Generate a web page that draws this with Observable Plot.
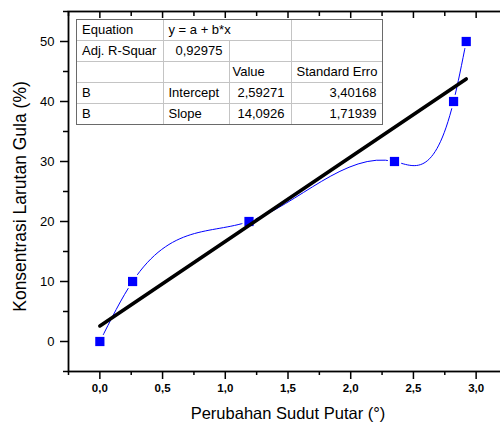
<!DOCTYPE html>
<html><head><meta charset="utf-8">
<script src="https://cdn.jsdelivr.net/npm/d3@7"></script>
<script src="https://cdn.jsdelivr.net/npm/@observablehq/plot@0.6"></script>
<style>
html,body{margin:0;padding:0;background:#fff;overflow:hidden;width:500px;height:427px;}
#wrap{position:relative;width:500px;height:427px;overflow:hidden;}
#wrap svg{max-width:none !important;display:block;}
#box{position:absolute;left:76px;top:19px;border:1px solid #6a6a6a;background:#fff;}
#tbl{border-collapse:collapse;border-style:hidden;table-layout:fixed;font:13px "Liberation Sans",Arial,sans-serif;color:#000;}
#tbl td{border:1px solid #c4c4c4;height:20px;padding:0 5px 0 5px;white-space:nowrap;line-height:20px;overflow:hidden;}
#tbl td.num{text-align:right;padding-right:6px;}
#tbl td.val{padding-left:3px;}
</style>
</head><body><div id="wrap"></div>
<script>
// ---- data ----
const xVals = [0, 0.261, 1.189, 2.349, 2.820, 2.921];
const yVals = [0, 10, 20, 30, 40, 50];
const fitIntercept = 2.59271;
const fitSlope = 14.0926;
const xTicks = [0, 0.5, 1.0, 1.5, 2.0, 2.5, 3.0];
const xTickLabels = ["0,0", "0,5", "1,0", "1,5", "2,0", "2,5", "3,0"];
const xMinor = [-0.25, 0.25, 0.75, 1.25, 1.75, 2.25, 2.75, 3.25];
const yTicks = [0, 10, 20, 30, 40, 50];
const yTickLabels = ["0", "10", "20", "30", "40", "50"];
const yMinor = [-5, 5, 15, 25, 35, 45, 55];
const xLabel = "Perubahan Sudut Putar (°)";
const yLabel = "Konsentrasi Larutan Gula (%)";
// fit table
const tableRow1 = ["Equation", "y = a + b*x", ""];
const tableRow2 = ["Adj. R-Squar", "0,92975", "", ""];
const tableRow3 = ["", "", "Value", "Standard Erro"];
const tableRow4 = ["B", "Intercept", "2,59271", "3,40168"];
const tableRow5 = ["B", "Slope", "14,0926", "1,71939"];

const points = xVals.map((x, i) => ({x, y: yVals[i]}));
const xr = d3.extent(xVals);
const fitPts = xr.map(x => ({x, y: fitIntercept + fitSlope * x}));

// Custom curve: natural cubic spline y(x) (function of x), like Origin's spline connector
function curveSplineX(context) {
  let xs, ys;
  return {
    lineStart() { xs = []; ys = []; },
    point(x, y) { xs.push(+x); ys.push(+y); },
    lineEnd() {
      const n = xs.length;
      if (!n) return;
      context.moveTo(xs[0], ys[0]);
      if (n < 3) { for (let i = 1; i < n; i++) context.lineTo(xs[i], ys[i]); return; }
      const h = [], M = new Array(n).fill(0);
      for (let i = 0; i < n - 1; i++) h.push(xs[i + 1] - xs[i]);
      const a = [], b = [], c = [], d = [];
      for (let i = 1; i < n - 1; i++) {
        a.push(h[i - 1]); b.push(2 * (h[i - 1] + h[i])); c.push(h[i]);
        d.push(6 * ((ys[i + 1] - ys[i]) / h[i] - (ys[i] - ys[i - 1]) / h[i - 1]));
      }
      const m = b.length;
      for (let i = 1; i < m; i++) {
        const w = a[i] / b[i - 1];
        b[i] -= w * c[i - 1]; d[i] -= w * d[i - 1];
      }
      const sol = new Array(m);
      sol[m - 1] = d[m - 1] / b[m - 1];
      for (let i = m - 2; i >= 0; i--) sol[i] = (d[i] - c[i] * sol[i + 1]) / b[i];
      for (let i = 0; i < m; i++) M[i + 1] = sol[i];
      for (let i = 0; i < n - 1; i++) {
        const hi = h[i];
        const s = (ys[i + 1] - ys[i]) / hi;
        const m0 = s - hi * (2 * M[i] + M[i + 1]) / 6;
        const m1 = s + hi * (M[i] + 2 * M[i + 1]) / 6;
        context.bezierCurveTo(xs[i] + hi / 3, ys[i] + m0 * hi / 3,
                              xs[i + 1] - hi / 3, ys[i + 1] - m1 * hi / 3,
                              xs[i + 1], ys[i + 1]);
      }
    },
    areaStart() {}, areaEnd() {}
  };
}

const chart = Plot.plot({
  width: 510, height: 427,
  marginLeft: 68, marginRight: 3, marginTop: 11, marginBottom: 56,
  style: {fontFamily: "'Liberation Sans', Arial, sans-serif", color: "black", background: "white", maxWidth: "none"},
  x: {domain: [-0.25, 3.25], axis: null},
  y: {domain: [-5, 55], axis: null},
  marks: [
    Plot.line(points, {x: "x", y: "y", stroke: "#0000ff", strokeWidth: 1, curve: curveSplineX}),
    Plot.dot(points, {x: "x", y: "y", symbol: "square", fill: "white", r: 7.5}),
    Plot.dot(points, {x: "x", y: "y", symbol: "square", fill: "#0000ff", r: 5.2}),
    Plot.line(fitPts, {x: "x", y: "y", stroke: "black", strokeWidth: 3.6}),
    Plot.frame({stroke: "black", strokeWidth: 1.8}),
    Plot.axisY({ticks: yTicks, tickSize: 8, tickPadding: 6, fontSize: 13, strokeWidth: 1.5,
      tickFormat: d => yTickLabels[yTicks.indexOf(d)], label: null}),
    Plot.axisY({ticks: yMinor, tickSize: 5, tickFormat: () => "", strokeWidth: 1.5, label: null}),
    Plot.axisX({ticks: xTicks, tickSize: 8, tickPadding: 4, fontSize: 11.5, fontWeight: "bold", strokeWidth: 1.5,
      tickFormat: d => xTickLabels[xTicks.indexOf(d)], label: null}),
    Plot.axisX({ticks: xMinor, tickSize: 4, tickFormat: () => "", strokeWidth: 1.5, label: null}),
    Plot.axisX({anchor: "top", ticks: xTicks, tickSize: -6, tickFormat: () => "", strokeWidth: 1.5, label: null}),
    Plot.axisX({anchor: "top", ticks: xMinor, tickSize: -4, tickFormat: () => "", strokeWidth: 1.5, label: null}),
    Plot.text([xLabel], {frameAnchor: "bottom", dy: 47, fontSize: 16.5, textAnchor: "middle", text: d => d}),
    Plot.text([yLabel], {frameAnchor: "left", dx: -48, dy: 5, rotate: -90, fontSize: 17.5, textAnchor: "middle", text: d => d})
  ]
});
const wrap = document.getElementById("wrap");
wrap.appendChild(chart);

// table overlay
const box = document.createElement("div");
box.id = "box";
const colW = [86, 66, 62, 90];
let html = '<table id="tbl"><colgroup>' + colW.map(w => `<col style="width:${w}px">`).join("") + '</colgroup>';
html += `<tr><td>${tableRow1[0]}</td><td colspan="2">${tableRow1[1]}</td><td>${tableRow1[2]}</td></tr>`;
html += `<tr><td>${tableRow2[0]}</td><td class="num">${tableRow2[1]}</td><td>${tableRow2[2]}</td><td>${tableRow2[3]}</td></tr>`;
html += `<tr><td>${tableRow3[0]}</td><td>${tableRow3[1]}</td><td class="val">${tableRow3[2]}</td><td>${tableRow3[3]}</td></tr>`;
for (const r of [tableRow4, tableRow5]) {
  html += `<tr><td>${r[0]}</td><td>${r[1]}</td><td class="num">${r[2]}</td><td class="num">${r[3]}</td></tr>`;
}
html += '</table>';
box.innerHTML = html;
wrap.appendChild(box);
</script>
</body></html>
